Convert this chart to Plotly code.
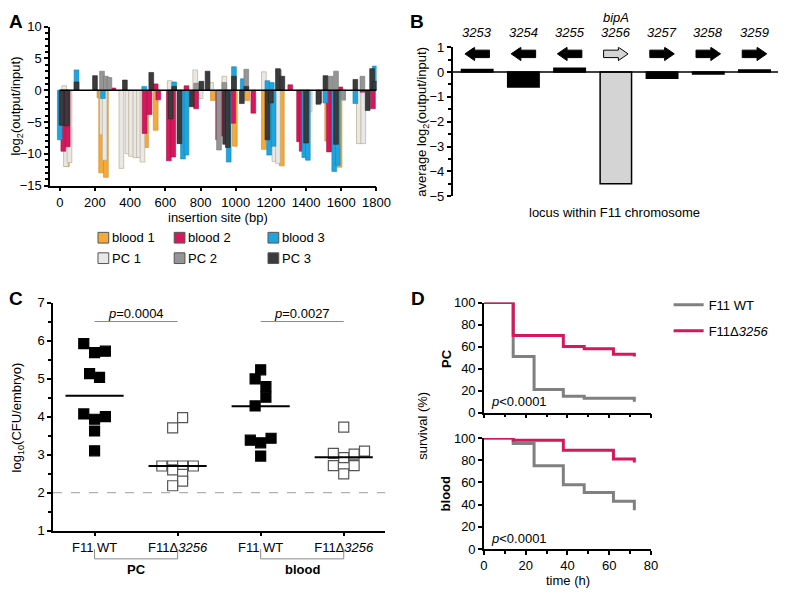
import plotly.graph_objects as go

# the page puts the plot 8 px in from the top-left corner, so the figure is
# made 8 px smaller and every reference pixel position is shifted by that much
OFF = 8
W, H = 795 - OFF, 600 - OFF
FONT = "Liberation Sans, Arial, sans-serif"


def fx(p):
    return (p - OFF) / W


def fy(p):
    return 1 - (p - OFF) / H


# ---------------- panel A data: insertion sites / log2(output/input) ----------------
blood1_site = [40, 225, 235, 262, 490, 545, 870, 995, 1065, 1160, 1262, 1520, 1590, 1710]
blood1_val = [-12.0, -1.2, -13.0, -13.7, -9.0, -6.3, -1.6, -8.8, -1.6, -9.3, -11.9, -8.0, -12.1, -2.6]

blood2_site = [20, 45, 245, 305, 482, 510, 545, 560, 620, 645, 720, 775, 900, 920, 985,
               1100, 1250, 1310, 1360, 1375, 1475, 1530, 1550, 1595, 1720, 1780]
blood2_val = [-9.6, -8.9, 0.5, 0.35, -6.8, -3.8, 1.0, -1.5, -11.1, -10.5, 0.7, -2.9, -7.8, -7.2, -5.2,
              -3.6, 1.0, 0.85, -8.1, -9.6, -2.0, -9.7, -9.6, 0.5, -0.3, -2.9]

blood3_site = [0, 95, 245, 480, 650, 700, 720, 960, 990, 1040, 1180, 1190, 1205, 1215,
               1390, 1410, 1510, 1560, 1580, 1680, 1790]
blood3_val = [-7.8, 3.2, -1.3, 0.6, 1.3, -10.8, -10.2, -11.3, 3.7, 1.8, 1.5, -10.2, 1.2, -8.8,
              -10.6, -11.0, -2.0, -12.8, -11.8, -2.1, 3.8]

pc1_site = [25, 35, 55, 240, 255, 350, 385, 405, 430, 450, 470, 625, 770, 800, 860, 935,
            1160, 1220, 1240, 1420, 1610, 1700, 1725]
pc1_val = [0.7, -12.0, -11.4, -7.0, -11.0, -12.3, -10.0, -10.4, -10.6, -10.6, -11.3, 1.5, 3.2, -1.3, 1.2, 2.2,
           2.9, -11.2, -11.5, -3.4, -1.6, -8.4, -8.4]

pc2_site = [240, 262, 282, 775, 905, 935, 1060, 1245, 1540, 1570, 1610, 1720]
pc2_val = [3.0, 2.2, 2.0, 1.1, -9.4, 1.2, 3.3, 3.2, 2.2, 3.0, -1.5, 2.2]

pc3_site = [10, 40, 95, 200, 370, 520, 630, 650, 680, 750, 805, 840, 940, 955, 990, 1035, 1060,
            1180, 1200, 1240, 1265, 1400, 1470, 1510, 1570, 1680, 1750, 1775, 1790]
pc3_val = [-5.5, -5.6, 1.3, 2.3, 1.6, 2.8, -4.5, 0.6, -8.4, -2.6, 1.4, 3.0, -8.5, -9.0, 2.2, -2.1, 0.6,
           -7.8, -2.0, 3.4, 2.2, -8.3, -2.2, 2.3, -8.5, 1.7, -3.2, 3.4, 1.4]

a_x_ticks = [0, 200, 400, 600, 800, 1000, 1200, 1400, 1600, 1800]

# ---------------- panel B data ----------------
genes = ["3253", "3254", "3255", "3256", "3257", "3258", "3259"]
gene_strand = [-1, -1, -1, 1, 1, 1, 1]
gene_avg = [0.1, -0.6, 0.15, -4.5, -0.25, -0.08, 0.08]

# ---------------- panel C data ----------------
c_groups = ["F11 WT", "F11Δ<i>3256</i>", "F11 WT", "F11Δ<i>3256</i>"]
pc_wt = [5.92, 5.68, 5.72, 5.13, 5.03, 4.07, 3.93, 4.00, 3.62, 3.10]
pc_mut = [3.97, 3.70, 2.70, 2.70, 2.70, 2.70, 2.60, 2.48, 2.30, 2.18]
blood_wt = [5.23, 4.99, 4.79, 4.51, 4.28, 3.38, 3.31, 3.43, 2.96]
blood_mut = [3.72, 3.03, 2.92, 3.01, 3.09, 2.71, 2.71, 2.49]
c_means = [4.55, 2.70, 4.27, 2.93]
c_pvalues = ["0.0004", "0.0027"]
c_limit = 2
# horizontal scatter of the points inside each column
jit_pc_wt = [-0.13, 0, 0.13, -0.06, 0.06, -0.13, 0, 0.13, 0, 0]
jit_pc_mut = [0.06, -0.06, -0.19, -0.06, 0.06, 0.19, -0.06, 0.06, 0.06, -0.06]
jit_blood_wt = [0, -0.067, 0.063, 0.063, -0.067, -0.125, 0, 0.125, 0]
jit_blood_mut = [0, -0.125, 0, 0.125, 0.25, -0.125, 0.125, 0]

# ---------------- panel D data (survival curves) ----------------
pc_wt_t = [0, 14, 24, 38, 48, 72, 72]
pc_wt_s = [100, 51, 21, 15, 13, 13, 10]
pc_mut_t = [0, 14, 38, 48, 62, 72, 72]
pc_mut_s = [100, 70, 60, 58, 53, 53, 51]
bl_wt_t = [0, 14, 24, 38, 48, 62, 72, 72]
bl_wt_s = [100, 95, 75, 58, 51, 43, 43, 35]
bl_mut_t = [0, 14, 38, 62, 72, 72]
bl_mut_s = [100, 98, 89, 81, 81, 78]

ORANGE = "#f5a93a"
RED = "#d6175b"
BLUE = "#1fa5de"
PC1C = "#e8e8e8"
PC2C = "#959595"
PC3C = "#3b3b3d"
GREY = "#808080"

fig = go.Figure()

# ---- A bars (overlaid) ----
a_series = [
    ("blood 1", blood1_site, blood1_val, ORANGE, "#c98a2a"),
    ("PC 1", pc1_site, pc1_val, PC1C, "#b9a27e"),
    ("blood 2", blood2_site, blood2_val, RED, "#a8124a"),
    ("blood 3", blood3_site, blood3_val, BLUE, "#1585b5"),
    ("PC 2", pc2_site, pc2_val, PC2C, "#777777"),
    ("PC 3", pc3_site, pc3_val, PC3C, "#222222"),
]
for name, xs, ys, col, edge in a_series:
    fig.add_trace(go.Bar(x=xs, y=ys, name=name, width=27, marker=dict(color=col, line=dict(color=edge, width=0.6)),
                         xaxis="x", yaxis="y", showlegend=False))

# ---- B bars ----
fig.add_trace(go.Bar(x=list(range(len(genes))), y=gene_avg, width=0.68,
                     marker=dict(color=["#d4d4d4" if g == "3256" else "black" for g in genes],
                                 line=dict(color="black", width=1.5)),
                     xaxis="x2", yaxis="y2", showlegend=False))

# ---- C points ----
c_sets = [(pc_wt, jit_pc_wt, True), (pc_mut, jit_pc_mut, False),
          (blood_wt, jit_blood_wt, True), (blood_mut, jit_blood_mut, False)]
for i, (vals, jit, filled) in enumerate(c_sets):
    fig.add_trace(go.Scatter(
        x=[i + j for j in jit], y=vals, mode="markers", xaxis="x3", yaxis="y3", showlegend=False,
        marker=dict(symbol="square", size=10,
                    color="black" if filled else "white",
                    line=dict(color="black" if filled else "#555555", width=1.2))))
    fig.add_trace(go.Scatter(x=[i - 0.35, i + 0.35], y=[c_means[i]] * 2, mode="lines",
                             line=dict(color="black", width=2), xaxis="x3", yaxis="y3", showlegend=False))

# ---- D curves ----
d_curves = [
    (pc_wt_t, pc_wt_s, GREY, "x4", "y4", "F11 WT", True, "wt"),
    (pc_mut_t, pc_mut_s, RED, "x4", "y4", "F11Δ<i>3256</i>", True, "mut"),
    (bl_wt_t, bl_wt_s, GREY, "x5", "y5", "F11 WT", False, "wt"),
    (bl_mut_t, bl_mut_s, RED, "x5", "y5", "F11Δ<i>3256</i>", False, "mut"),
]
for t, s, col, xa, ya, name, sl, grp in d_curves:
    fig.add_trace(go.Scatter(x=t, y=s, mode="lines", line=dict(color=col, width=3, shape="hv"),
                             name=name, legendgroup=grp, showlegend=sl, xaxis=xa, yaxis=ya))

axis_common = dict(showline=True, linecolor="black", linewidth=1.5, ticks="outside", ticklen=4,
                   tickwidth=1.5, tickcolor="black", showgrid=False, zeroline=False,
                   tickfont=dict(size=13, color="black", family=FONT))

fig.update_layout(
    width=W, height=H, margin=dict(l=0, r=0, t=0, b=0),
    paper_bgcolor="white", plot_bgcolor="white", barmode="overlay",
    font=dict(family=FONT, size=13, color="black"),
    xaxis=dict(domain=[fx(47), fx(381)], range=[-55, 1800], tickvals=a_x_ticks, anchor="y", **axis_common),
    yaxis=dict(domain=[fy(183), fy(20)], range=[-15, 10], dtick=5, anchor="x",
               minor=dict(dtick=1, ticklen=3, tickcolor="black", ticks="outside"), **axis_common),
    xaxis2=dict(domain=[fx(459), fx(792)], range=[-0.53, 6.51], anchor="y2", visible=False),
    yaxis2=dict(domain=[fy(194), fy(41)], range=[-5, 1], dtick=1, anchor="x2",
                minor=dict(dtick=0.5, ticklen=3, tickcolor="black", ticks="outside"), **axis_common),
    xaxis3=dict(domain=[fx(50), fx(390)], range=[-0.5, 3.5], tickvals=list(range(4)), ticktext=c_groups,
                anchor="y3", **axis_common),
    yaxis3=dict(domain=[fy(537), fy(303)], range=[1, 7], dtick=1, anchor="x3",
                minor=dict(dtick=0.5, ticklen=3, tickcolor="black", ticks="outside"), **axis_common),
    xaxis4=dict(domain=[fx(491), fx(662)], range=[0, 80], dtick=20, showticklabels=False, anchor="y4",
                minor=dict(dtick=10, ticklen=3, tickcolor="black", ticks="outside"), **axis_common),
    yaxis4=dict(domain=[fy(416), fy(303)], range=[0, 100], dtick=20, anchor="x4", **axis_common),
    xaxis5=dict(domain=[fx(491), fx(662)], range=[0, 80], dtick=20, anchor="y5",
                minor=dict(dtick=10, ticklen=3, tickcolor="black", ticks="outside"), **axis_common),
    yaxis5=dict(domain=[fy(556), fy(442)], range=[0, 100], dtick=20, anchor="x5", **axis_common),
    legend=dict(x=fx(680), y=fy(290), xanchor="left", yanchor="top", itemwidth=30,
                tracegroupgap=6, font=dict(size=13), bgcolor="rgba(0,0,0,0)"),
)

shapes = []
ann = []


def text(x, y, s, size=13, xref="paper", yref="paper", angle=0, xanchor="center", yanchor="middle", **kw):
    ann.append(dict(x=x, y=y, text=s, xref=xref, yref=yref, showarrow=False, textangle=angle,
                    xanchor=xanchor, yanchor=yanchor, font=dict(size=size, color="black", family=FONT), **kw))


# panel letters
for letter, px, py in [("A", 12, 15), ("B", 422, 15), ("C", 12, 299), ("D", 424, 299)]:
    text(fx(px), fy(py), "<b>%s</b>" % letter, size=19)

# ---- A decorations ----
shapes.append(dict(type="line", xref="x", yref="y", x0=0, x1=a_x_ticks[-1], y0=0, y1=0,
                   line=dict(color="black", width=1.6), layer="above"))
text(fx(13), fy(101), "log<sub>2</sub>(output/input)", angle=-90)
text(fx(219), fy(216), "insertion site (bp)")
legend_pos = [(96, 231), (174, 231), (270, 231), (96, 252), (174, 252), (270, 252)]
legend_items = [("blood 1", ORANGE), ("blood 2", RED), ("blood 3", BLUE),
                ("PC 1", PC1C), ("PC 2", PC2C), ("PC 3", PC3C)]
for (name, col), (px, py) in zip(legend_items, legend_pos):
    shapes.append(dict(type="rect", xref="paper", yref="paper", x0=fx(px), x1=fx(px + 11),
                       y0=fy(py + 11), y1=fy(py), fillcolor=col, line=dict(color="#555555", width=1)))
    text(fx(px + 12), fy(py + 5.5), name, xanchor="left")

# ---- B decorations ----
shapes.append(dict(type="line", xref="x2 domain", yref="y2", x0=0, x1=1, y0=0, y1=0,
                   line=dict(color="black", width=1.6), layer="above"))
for i, (g, s) in enumerate(zip(genes, gene_strand)):
    hw, hl, cy, hh, sh = 0.265, 0.21, 0.73, 0.27, 0.15
    if s > 0:
        x0, x1, xb = i - hw, i + hw, i + hw - hl
    else:
        x0, x1, xb = i + hw, i - hw, i - hw + hl
    path = ("M {a},{b} L {c},{b} L {c},{d} L {e},{f} L {c},{g} L {c},{h} L {a},{h} Z"
            .format(a=x0, b=cy - sh, c=xb, d=cy - hh, e=x1, f=cy, g=cy + hh, h=cy + sh))
    shapes.append(dict(type="path", xref="x2", yref="y2", path=path,
                       fillcolor="#d4d4d4" if g == "3256" else "black", line=dict(color="black", width=1)))
    text(i, fy(26), "<i>%s</i>" % g, xref="x2")
    if g == "3256":
        text(i, fy(11), "<i>bipA</i>", xref="x2")
text(fx(428), fy(117), "average log<sub>2</sub>(output/input)", angle=-90)
text(fx(625), fy(211), "locus within F11 chromosome")

# ---- C decorations ----
shapes.append(dict(type="line", xref="x3 domain", yref="y3", x0=0, x1=1, y0=c_limit, y1=c_limit,
                   line=dict(color="#b0b0b0", width=1.2, dash="dash")))
for k, (pv, lab) in enumerate(zip(c_pvalues, ["PC", "blood"])):
    a, b = 2 * k, 2 * k + 1
    shapes.append(dict(type="line", xref="x3", yref="y3", x0=a, x1=b, y0=6.5, y1=6.5,
                       line=dict(color="#8a8a8a", width=1)))
    text((a + b) / 2, fy(314), "<i>p</i>=%s" % pv, xref="x3")
    shapes.append(dict(type="path", xref="x3", yref="paper",
                       path="M {a},{t} L {a},{u} L {b},{u} L {b},{t}".format(a=a, b=b, t=fy(556), u=fy(566)),
                       line=dict(color="#8a8a8a", width=1)))
    text((a + b) / 2, fy(577), "<b>%s</b>" % lab, xref="x3")
text(fx(14), fy(421), "log<sub>10</sub>(CFU/embryo)", angle=-90)

# ---- D decorations ----
text(fx(428), fy(429), "survival (%)", angle=-90)
text(fx(452), fy(360), "<b>PC</b>", angle=-90)
text(fx(452), fy(499), "<b>blood</b>", angle=-90)
text(fx(496), fy(405), "<i>p</i>&lt;0.0001", xanchor="left")
text(fx(496), fy(545), "<i>p</i>&lt;0.0001", xanchor="left")
text(fx(577), fy(588), "time (h)")

fig.update_layout(shapes=shapes, annotations=ann)
fig.write_html("out.html")
